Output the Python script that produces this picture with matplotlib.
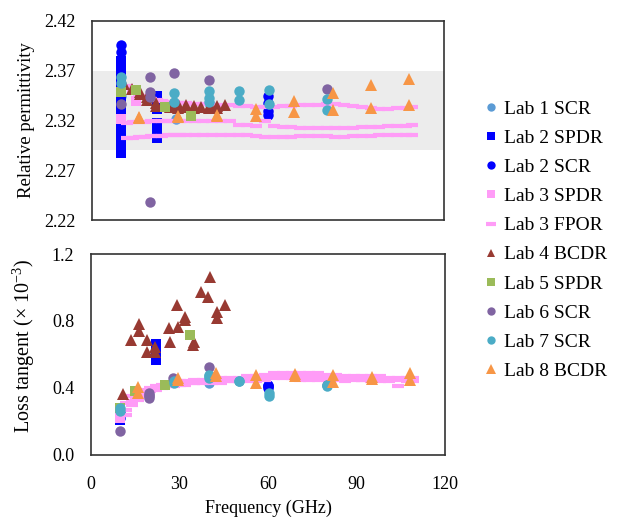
import numpy as np
import matplotlib
matplotlib.use('Agg')
import matplotlib.pyplot as plt

plt.rcParams['font.family'] = ['Liberation Serif', 'DejaVu Serif']
plt.rcParams['mathtext.fontset'] = 'custom'
plt.rcParams['mathtext.rm'] = 'Liberation Serif'

# ---- data (frequency in GHz) ----
lab1_f = [10, 28.5, 40]
lab1_eps = [2.345, 2.322, 2.338]
lab1_tan = [0.27, 0.45, 0.43]

lab2spdr_f = [10] * 16 + [22] * 6
lab2spdr_eps = [2.380, 2.375, 2.368, 2.362, 2.356, 2.349, 2.343, 2.338, 2.331, 2.325,
                2.318, 2.312, 2.306, 2.299, 2.294, 2.287,
                2.345, 2.340, 2.332, 2.317, 2.310, 2.302]
lab2spdr_tan = [0.21, 0.22, 0.23, 0.24, 0.25, 0.26, 0.27, 0.28, 0.27, 0.26,
                0.25, 0.24, 0.23, 0.22, 0.22, 0.21,
                0.66, 0.64, 0.62, 0.60, 0.58, 0.57]

lab2scr_f = [10, 10, 60, 60, 60, 60]
lab2scr_eps = [2.396, 2.389, 2.345, 2.338, 2.330, 2.326]
lab2scr_tan = [0.22, 0.25, 0.41, 0.40, 0.42, 0.41]

lab3spdr_f = [10, 15]
lab3spdr_eps = [2.322, 2.340]
lab3spdr_tan = [0.22, 0.36]

fpor_f = [12, 14, 16, 18, 20, 22, 24, 26, 28, 30, 32, 35, 38, 41, 44, 47, 50, 53, 56,
          59, 62, 65, 68, 71, 74, 77, 80, 83, 86, 89, 92, 95, 98, 101, 104, 107, 109]
fpor_eps_a = [2.355, 2.350, 2.345, 2.343, 2.342, 2.341, 2.340, 2.339, 2.339, 2.338,
              2.338, 2.337, 2.337, 2.336, 2.336, 2.336, 2.335, 2.335, 2.334, 2.334,
              2.334, 2.335, 2.335, 2.336, 2.336, 2.336, 2.337, 2.337, 2.336, 2.335,
              2.334, 2.333, 2.332, 2.332, 2.333, 2.333, 2.334]
fpor_eps_b = [2.317, 2.318, 2.318, 2.318, 2.319, 2.319, 2.319, 2.319, 2.320, 2.320,
              2.320, 2.320, 2.320, 2.320, 2.320, 2.319, 2.315, 2.315, 2.314, 2.319,
              2.314, 2.313, 2.313, 2.312, 2.312, 2.312, 2.312, 2.312, 2.312, 2.312,
              2.313, 2.313, 2.313, 2.314, 2.314, 2.314, 2.315]
fpor_eps_c = [2.302, 2.302, 2.303, 2.303, 2.304, 2.304, 2.304, 2.305, 2.305, 2.305,
              2.305, 2.305, 2.305, 2.305, 2.305, 2.305, 2.305, 2.305, 2.304, 2.303,
              2.303, 2.303, 2.303, 2.304, 2.304, 2.304, 2.304, 2.303, 2.303, 2.304,
              2.304, 2.304, 2.305, 2.305, 2.305, 2.305, 2.305]
fpor_tan_a = [0.31, 0.35, 0.37, 0.39, 0.40, 0.41, 0.42, 0.43, 0.43, 0.44, 0.44, 0.45,
              0.45, 0.45, 0.46, 0.46, 0.46, 0.47, 0.47, 0.48, 0.49, 0.49, 0.49, 0.49,
              0.49, 0.49, 0.48, 0.48, 0.47, 0.47, 0.47, 0.47, 0.47, 0.46, 0.46, 0.46, 0.46]
fpor_tan_b = [0.27, 0.32, 0.35, 0.37, 0.39, 0.40, 0.41, 0.41, 0.42, 0.43, 0.43, 0.43,
              0.44, 0.44, 0.44, 0.44, 0.45, 0.45, 0.45, 0.45, 0.46, 0.46, 0.46, 0.45,
              0.45, 0.45, 0.45, 0.45, 0.44, 0.45, 0.45, 0.44, 0.44, 0.44, 0.41, 0.44, 0.44]
fpor_tan_c = [0.24, 0.30, 0.33, 0.36, 0.38, 0.39, 0.40, 0.41, 0.41, 0.42, 0.42, 0.43,
              0.43, 0.43, 0.43, 0.44, 0.44, 0.44, 0.44, 0.46, 0.47, 0.48, 0.48, 0.47,
              0.47, 0.47, 0.46, 0.46, 0.46, 0.46, 0.45, 0.45, 0.45, 0.45, 0.45, 0.45, 0.45]

lab4_f = [10.8, 13.5, 16.3, 16.3, 18.9, 18.9, 21.7, 21.7, 26.6, 26.8, 29.3, 29.6,
          31.9, 32.0, 34.7, 34.8, 37.2, 39.8, 40.2, 42.7, 42.7, 45.5]
lab4_eps = [2.357, 2.352, 2.349, 2.347, 2.344, 2.341, 2.338, 2.335, 2.334, 2.336,
            2.333, 2.335, 2.334, 2.336, 2.333, 2.335, 2.334, 2.333, 2.336, 2.333,
            2.335, 2.336]
lab4_tan = [0.364, 0.687, 0.782, 0.742, 0.687, 0.617, 0.617, 0.647, 0.758, 0.676,
            0.896, 0.766, 0.826, 0.806, 0.657, 0.676, 0.975, 0.945, 1.064, 0.856,
            0.816, 0.896]

lab5_f = [10, 15, 25, 33.6]
lab5_eps = [2.349, 2.351, 2.334, 2.325]
lab5_tan = [0.28, 0.38, 0.42, 0.716]

lab6_f = [10, 19.7, 19.7, 19.7, 19.7, 27.8, 40, 80]
lab6_eps = [2.337, 2.364, 2.349, 2.344, 2.238, 2.368, 2.361, 2.352]
lab6_tan = [0.145, 0.368, 0.338, 0.35, 0.36, 0.458, 0.527, 0.42]

lab7_f = [10, 10, 28, 28, 40, 40, 40, 50.2, 50.2, 60.2, 60.2, 80, 80]
lab7_eps = [2.364, 2.358, 2.348, 2.339, 2.350, 2.343, 2.339, 2.350, 2.341,
            2.351, 2.337, 2.342, 2.331]
lab7_tan = [0.28, 0.26, 0.44, 0.43, 0.48, 0.46, 0.47, 0.44, 0.44, 0.35, 0.37, 0.41, 0.42]

lab8_f = [16, 16, 29.4, 29.4, 42.5, 42.5, 55.8, 55.8, 69, 69, 82, 82,
          95.2, 95.2, 108.2, 108.2]
lab8_eps = [2.324, 2.323, 2.325, 2.324, 2.326, 2.325, 2.332, 2.325, 2.340, 2.329,
            2.348, 2.331, 2.356, 2.333, 2.362, 2.336]
lab8_tan = [0.408, 0.368, 0.458, 0.45, 0.488, 0.47, 0.478, 0.428, 0.484, 0.47,
            0.478, 0.438, 0.468, 0.455, 0.488, 0.448]

band_lo, band_hi = 2.29, 2.37

C_LAB1 = '#5B9BD5'
C_BLUE = '#0000FF'
C_PINK = '#FF9CF7'
C_LAB4 = '#983A32'
C_LAB5 = '#9BBB59'
C_LAB6 = '#8064A2'
C_LAB7 = '#4BACC6'
C_LAB8 = '#F79646'

fig = plt.figure(figsize=(6.19, 5.22), dpi=100)
ax1 = fig.add_axes([0.1486, 0.5785, 0.5687, 0.3813])
ax2 = fig.add_axes([0.1470, 0.1284, 0.5720, 0.3850])


def draw(ax, which):
    # which = 0 -> permittivity, 1 -> loss tangent
    def v(a, b):
        return a if which == 0 else b
    ax.plot(lab1_f, v(lab1_eps, lab1_tan), 'o', ms=7.5, mew=0, color=C_LAB1, label='Lab 1 SCR')
    ax.plot(lab2spdr_f, v(lab2spdr_eps, lab2spdr_tan), 's', ms=7.5, mew=0, color=C_BLUE, label='Lab 2 SPDR')
    ax.plot(lab2scr_f, v(lab2scr_eps, lab2scr_tan), 'o', ms=7.5, mew=0, color=C_BLUE, label='Lab 2 SCR')
    ax.plot(lab3spdr_f, v(lab3spdr_eps, lab3spdr_tan), 's', ms=7.5, mew=0, color=C_PINK, label='Lab 3 SPDR')
    tracks = v([fpor_eps_a, fpor_eps_b, fpor_eps_c], [fpor_tan_a, fpor_tan_b, fpor_tan_c])
    for k, tr in enumerate(tracks):
        ax.plot(fpor_f, tr, '_', ms=8.5, mew=3.0, color=C_PINK,
                label='Lab 3 FPOR' if k == 0 else None)
    ax.plot(lab4_f, v(lab4_eps, lab4_tan), '^', ms=8, mew=0, color=C_LAB4, label='Lab 4 BCDR')
    ax.plot(lab5_f, v(lab5_eps, lab5_tan), 's', ms=7, mew=0, color=C_LAB5, label='Lab 5 SPDR')
    ax.plot(lab6_f, v(lab6_eps, lab6_tan), 'o', ms=7.5, mew=0, color=C_LAB6, label='Lab 6 SCR')
    ax.plot(lab7_f, v(lab7_eps, lab7_tan), 'o', ms=7.5, mew=0, color=C_LAB7, label='Lab 7 SCR')
    ax.plot(lab8_f, v(lab8_eps, lab8_tan), '^', ms=8.5, mew=0, color=C_LAB8, label='Lab 8 BCDR')


ax1.axhspan(band_lo, band_hi, color='#ececec', lw=0, zorder=0)
draw(ax1, 0)
draw(ax2, 1)

for ax in (ax1, ax2):
    ax.set_xlim(0, 120)
    ax.set_xticks([0, 30, 60, 90, 120])
    ax.tick_params(length=0, labelsize=13, pad=12)
    ax.tick_params(axis='x', pad=15)
    for s in ax.spines.values():
        s.set_color('#333333')
        s.set_linewidth(1.2)

ax1.set_ylim(2.22, 2.42)
ax1.set_yticks([2.22, 2.27, 2.32, 2.37, 2.42])
ax1.set_yticklabels(['2.22', '2.27', '2.32', '2.37', '2.42'])
ax1.set_xticklabels([])
ax1.set_ylabel('Relative permittivity', fontsize=13.5)
ax1.yaxis.set_label_coords(-0.162, 0.5)

ax2.set_ylim(0, 1.2)
ax2.set_yticks([0, 0.4, 0.8, 1.2])
ax2.set_yticklabels(['0.0', '0.4', '0.8', '1.2'])
ax2.set_ylabel('Loss tangent (\u00d7 10$^{-3}$)', fontsize=14.5)
ax2.yaxis.set_label_coords(-0.152, 0.54)
ax2.set_xlabel('Frequency (GHz)', fontsize=13, labelpad=5)

handles, labels = ax1.get_legend_handles_labels()
fig.legend(handles, labels, loc='center left', bbox_to_anchor=(0.765, 0.540),
           frameon=False, fontsize=14, markerscale=0.8, handlelength=1.0,
           handletextpad=0.15, labelspacing=0.59, borderaxespad=0)

fig.savefig('out.png', dpi=100)
